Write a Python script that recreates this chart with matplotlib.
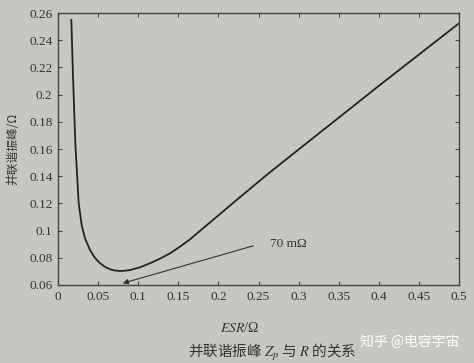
import matplotlib.pyplot as plt
import numpy as np

# 读图得到的曲线点 (ESR, 并联谐振峰)
esr = [0.0166, 0.0187, 0.0216, 0.0258, 0.0295, 0.0337, 0.0399, 0.046, 0.0524, 0.0586,
       0.0648, 0.0710, 0.0773, 0.0835, 0.0898, 0.1022, 0.1147, 0.1272, 0.1397, 0.1521,
       0.1646, 0.2186, 0.260, 0.3017, 0.3516, 0.40, 0.45, 0.5]
zp = [0.255, 0.213, 0.164, 0.1200, 0.104, 0.0943, 0.0857, 0.0800, 0.0760, 0.0733,
      0.0716, 0.0706, 0.0703, 0.0705, 0.0710, 0.0730, 0.0760, 0.0794, 0.0833, 0.0882,
      0.0936, 0.1205, 0.1409, 0.1605, 0.1838, 0.2065, 0.2295, 0.2525]

xticks = [0, 0.05, 0.1, 0.15, 0.2, 0.25, 0.3, 0.35, 0.4, 0.45, 0.5]
yticks = [0.06, 0.08, 0.1, 0.12, 0.14, 0.16, 0.18, 0.2, 0.22, 0.24, 0.26]

bg = '#c6c6c2'
cjk = ['Noto Sans CJK SC', 'DejaVu Sans']
serif = ['Liberation Serif', 'DejaVu Serif']

fig = plt.figure(figsize=(4.74, 3.63), dpi=100, facecolor=bg)
ax = fig.add_axes([0.1224, 0.2149, 0.846, 0.749])
ax.set_facecolor(bg)

ax.plot(esr, zp, color='#222222', lw=1.3)
ax.set_xlim(0, 0.5)
ax.set_ylim(0.06, 0.26)
ax.set_xticks(xticks)
ax.set_yticks(yticks)
ax.set_xticklabels(['%g' % v for v in xticks], family=serif, fontsize=9.5, color='#333333')
ax.set_yticklabels(['%g' % v for v in yticks], family=serif, fontsize=9.5, color='#333333')
ax.tick_params(direction='in', top=True, right=True, length=3, color='#444444', pad=4)
for s in ax.spines.values():
    s.set_color('#444444')
    s.set_linewidth(1.0)

# 标注 70 mΩ
ax.annotate('', xy=(0.0773, 0.0607), xytext=(0.247, 0.0894),
            arrowprops=dict(arrowstyle='-|>', color='#333333', lw=0.8, mutation_scale=8))
ax.text(0.264, 0.0905, '70 mΩ', family=serif, fontsize=9.5, color='#333333', va='center')

fig.text(0.028, 0.59, '并联谐振峰/Ω', family=cjk, fontsize=8.5, rotation=90,
         ha='center', va='center', color='#333333')
fig.text(0.505, 0.096, r'$ESR$/Ω', family=serif, fontsize=10, ha='center', va='center',
         color='#333333', math_fontfamily='stix')
fig.text(0.575, 0.03, '并联谐振峰 $Z_p$ 与 $R$ 的关系', family=cjk, fontsize=10.5,
         ha='center', va='center', color='#333333', math_fontfamily='stix')
fig.text(0.865, 0.058, '知乎 @电容宇宙', family=cjk, fontsize=10, ha='center', va='center',
         color='white')

fig.savefig('out.png', dpi=100, facecolor=bg)
